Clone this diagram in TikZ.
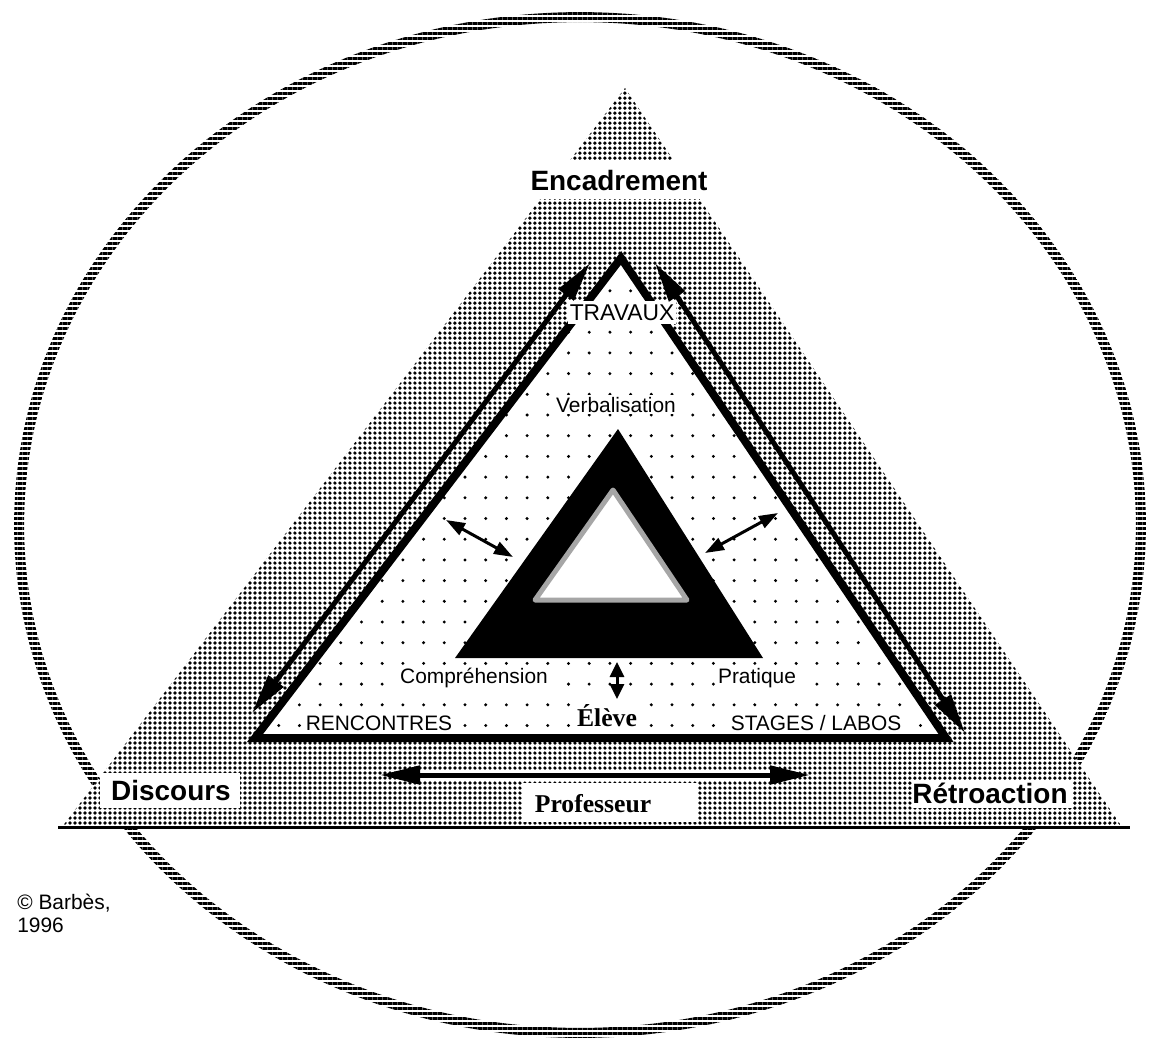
\documentclass[tikz,border=0pt]{standalone}
\usepackage{fontspec}
\setmainfont{Liberation Sans}
\newfontfamily\serifbf{Liberation Serif}
\usetikzlibrary{arrows.meta,patterns.meta}
\tikzset{
  ringband/.style={pattern={Lines[distance=0.1cm,line width=0.06cm]}, even odd rule},
  halftone/.style={pattern={Dots[distance=0.1cm,radius=0.037cm]}},
  bigarrow/.style={line width=0.1cm, {Triangle[length=0.8cm,width=0.36cm]}-{Triangle[length=0.8cm,width=0.36cm]}},
  smallarrow/.style={line width=0.06cm, {Triangle[length=0.38cm,width=0.26cm]}-{Triangle[length=0.38cm,width=0.26cm]}},
  tinyarrow/.style={line width=0.06cm, {Triangle[length=0.3cm,width=0.28cm]}-{Triangle[length=0.3cm,width=0.28cm]}},
  biglabel/.style={font=\fontsize{15.9}{19}\selectfont\bfseries, inner sep=0pt},
  smalllabel/.style={font=\fontsize{11.9}{14}\selectfont, inner sep=1pt, fill=white},
  seriflabel/.style={font=\serifbf\fontsize{14.6}{17}\selectfont\bfseries, inner sep=0pt},
}
\begin{document}
\begin{tikzpicture}[x=0.02cm,y=-0.02cm]
\useasboundingbox (0,0) rectangle (1151,1038);
% key points
\coordinate (ec) at (580,525);
\coordinate (ga) at (625,88);
\coordinate (gl) at (62,827);
\coordinate (gr) at (1122,827);
\coordinate (bl) at (58,827);
\coordinate (br) at (1130,827);
\coordinate (wa) at (621,258);
\coordinate (wl) at (255,738);
\coordinate (wr) at (946,738);
\coordinate (ka) at (618,429);
\coordinate (kl) at (455,658);
\coordinate (kr) at (763,658);
\coordinate (ia) at (613,490);
\coordinate (il) at (535,600);
\coordinate (ir) at (687,600);
% outer ring
\path[ringband] (ec) ellipse [x radius=11.32cm, y radius=10.26cm]
                (ec) ellipse [x radius=11.12cm, y radius=10.06cm];
% big shaded triangle
\fill[white] (ga) -- (gl) -- (gr) -- cycle;
\path[halftone] (ga) -- (gl) -- (gr) -- cycle;
\draw[line width=0.06cm] (bl) -- (br);
% white triangle with sparse dots
\fill[white] (wa) -- (wl) -- (wr) -- cycle;
\begin{scope}
  \clip (wa) -- (wl) -- (wr) -- cycle;
  \foreach \i in {-11,...,24} {
    \foreach \j in {-8,...,16} {
      \fill ({465+20.7*\i},{415+20.7*\j}) circle (0.033cm);
    }
  }
\end{scope}
\draw[line width=0.16cm, line join=miter] (wa) -- (wl) -- (wr) -- cycle;
% central black triangle
\fill (ka) -- (kl) -- (kr) -- cycle;
\filldraw[fill=white, draw=black!35, line width=0.1cm, line join=round] (ia) -- (il) -- (ir) -- cycle;
% white label boxes in the shaded area
\fill[white] (100,773) rectangle (240,808);
\fill[white] (913,780) rectangle (1073,808);
\fill[white] (522,783) rectangle (698,822);
% label on the apex of the white triangle (interrupts its edges)
\node[font=\fontsize{13}{15}\selectfont, anchor=base, fill=white, inner xsep=1pt, inner ysep=2pt] (trav) at (622,320) {TRAVAUX};
% arrows
\coordinate (la1) at (590,263);
\coordinate (la2) at (252,713);
\coordinate (ra1) at (655,263);
\coordinate (ra2) at (965,733);
\coordinate (pa1) at (380,775);
\coordinate (pa2) at (810,775);
\coordinate (sl1) at (446,520);
\coordinate (sl2) at (513,557);
\coordinate (sr1) at (705,553);
\coordinate (sr2) at (778,513);
\coordinate (sb1) at (617,662);
\coordinate (sb2) at (617,699);
\draw[bigarrow] (la1) -- (la2);
\draw[bigarrow] (ra1) -- (ra2);
\draw[white, line width=0.22cm, shorten <=0.8cm, shorten >=0.8cm] (pa1) -- (pa2);
\draw[bigarrow] (pa1) -- (pa2);
\draw[smallarrow] (sl1) -- (sl2);
\draw[smallarrow] (sr1) -- (sr2);
\draw[tinyarrow] (sb1) -- (sb2);
% labels
\node[biglabel, anchor=base, fill=white, inner ysep=0.18cm, inner xsep=0.1cm] (enc) at (619,190) {Encadrement};
\node[biglabel, anchor=base] (dis) at (171,800) {Discours};
\node[biglabel, anchor=base] (ret) at (990,803) {Rétroaction};
\node[seriflabel, anchor=base] (prof) at (593,812) {Professeur};
\node[seriflabel, anchor=base, fill=white, inner sep=1pt] (eleve) at (607,726) {Élève};
\node[smalllabel, anchor=base] (verb) at (616,412) {Verbalisation};
\node[smalllabel, anchor=base] (comp) at (474,683) {Compréhension};
\node[smalllabel, anchor=base] (prat) at (757,683) {Pratique};
\node[smalllabel, anchor=base] (renc) at (379,730) {RENCONTRES};
\node[smalllabel, anchor=base] (stag) at (816,730) {STAGES / LABOS};
\node[font=\fontsize{11.9}{14}\selectfont, anchor=base west, inner sep=0pt] (cop1) at (17,909) {© Barbès,};
\node[font=\fontsize{11.9}{14}\selectfont, anchor=base west, inner sep=0pt] (cop2) at (17,932) {1996};
\end{tikzpicture}
\end{document}
